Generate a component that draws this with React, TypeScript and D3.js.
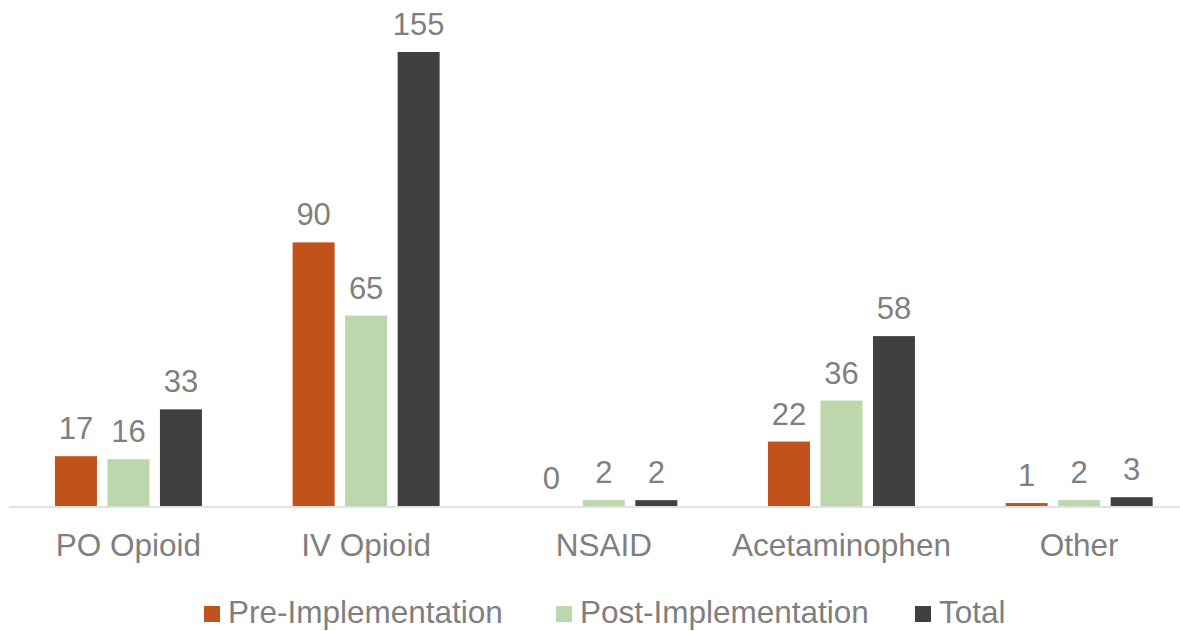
import React from "react";
import * as d3 from "d3";

const categories = ["PO Opioid", "IV Opioid", "NSAID", "Acetaminophen", "Other"];
const seriesNames = ["Pre-Implementation", "Post-Implementation", "Total"];
const preValues = [17, 90, 0, 22, 1];
const postValues = [16, 65, 2, 36, 2];
const totalValues = [33, 155, 2, 58, 3];
const seriesColors = ["#C0521A", "#BDD7AC", "#404040"];

const W = 1180;
const H = 631;
const FONT = "Arial, Liberation Sans, Arimo, Helvetica, sans-serif";
const TEXT = "#7F7F7F";

export default function App() {
  const seriesValues = [preValues, postValues, totalValues];
  const x0 = d3.scaleBand<string>().domain(categories).range([9.6, 1198]).paddingInner(0).paddingOuter(0);
  const x1 = d3.scaleBand<string>().domain(seriesNames).range([-73.5, 73.5]).paddingInner(0.2).paddingOuter(0);
  const y = d3.scaleLinear().domain([0, 155]).range([506, 52]);

  const legendX = [204, 556, 915];

  return (
    <svg width={W} height={H} style={{ position: "absolute", left: 0, top: 0, background: "#fff" }}>
      <line x1={9} x2={W} y1={507} y2={507} stroke="#D9D9D9" strokeWidth={1.5} />
      {categories.map((c, ci) => {
        const cx = (x0(c) as number) + x0.bandwidth() / 2;
        return (
          <g key={c}>
            {seriesNames.map((s, si) => {
              const v = seriesValues[si][ci];
              const bx = cx + (x1(s) as number);
              return (
                <g key={s}>
                  <rect x={bx} y={y(v)} width={x1.bandwidth()} height={y(0) - y(v)} fill={seriesColors[si]} />
                  <text x={bx + x1.bandwidth() / 2} y={y(v) - 17} textAnchor="middle" fontFamily={FONT} fontSize={31} fill={TEXT}>
                    {v}
                  </text>
                </g>
              );
            })}
            <text x={cx} y={556} textAnchor="middle" fontFamily={FONT} fontSize={31.5} fill={TEXT}>
              {c}
            </text>
          </g>
        );
      })}
      {seriesNames.map((s, si) => (
        <g key={s}>
          <rect x={legendX[si]} y={606} width={16} height={16} fill={seriesColors[si]} />
          <text x={legendX[si] + 24} y={623} fontFamily={FONT} fontSize={31.5} fill={TEXT}>
            {s}
          </text>
        </g>
      ))}
    </svg>
  );
}
